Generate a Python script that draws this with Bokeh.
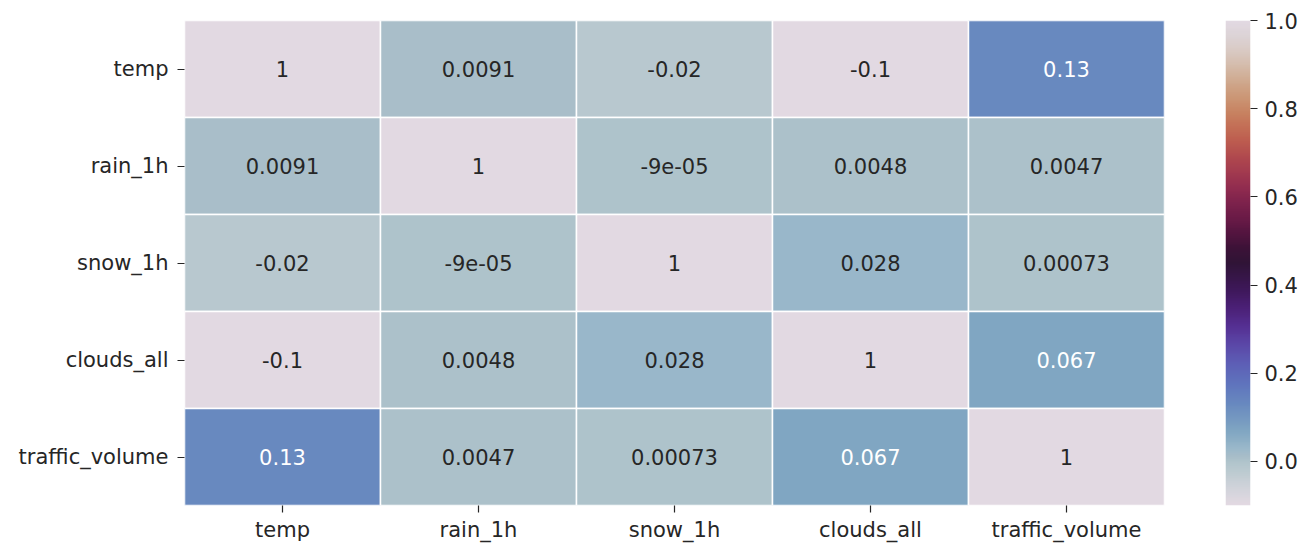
import numpy as np
from bokeh.plotting import figure
from bokeh.layouts import row
from bokeh.models import (ColumnDataSource, FactorRange, Range1d, LinearColorMapper,
                          FixedTicker, PrintfTickFormatter)
from bokeh.core.properties import value
from bokeh.embed import file_html
from bokeh.resources import INLINE

# Correlation matrix of the traffic / weather features
features = ["temp", "rain_1h", "snow_1h", "clouds_all", "traffic_volume"]
temp_row = [1.0, 0.0091, -0.02, -0.1, 0.13]
rain_row = [0.0091, 1.0, -9e-05, 0.0048, 0.0047]
snow_row = [-0.02, -9e-05, 1.0, 0.028, 0.00073]
clouds_row = [-0.1, 0.0048, 0.028, 1.0, 0.067]
traffic_row = [0.13, 0.0047, 0.00073, 0.067, 1.0]
rows = [temp_row, rain_row, snow_row, clouds_row, traffic_row]

cbar_ticks = [0.0, 0.2, 0.4, 0.6, 0.8, 1.0]

# Cyclic "twilight"-style colour map: anchor stops (position, colour)
stops = [(0.000, "#e2d9e2"), (0.035, "#d0d3da"), (0.073, "#b9c9cf"),
         (0.092, "#adc2cb"), (0.100, "#a8bdc8"), (0.116, "#9ab8ca"),
         (0.152, "#80a6c2"), (0.209, "#6888bf"), (0.250, "#5f74bd"),
         (0.290, "#5d5fb6"), (0.330, "#5b48a8"), (0.370, "#552f92"),
         (0.410, "#4a1f74"), (0.450, "#3c1756"), (0.500, "#2f1436"),
         (0.530, "#3c1237"), (0.560, "#52143f"), (0.590, "#681a46"),
         (0.625, "#7d224c"), (0.656, "#912c4f"), (0.688, "#a23a4f"),
         (0.720, "#b0494e"), (0.750, "#bc5b4f"), (0.780, "#c36d55"),
         (0.810, "#c78160"), (0.840, "#cb9473"), (0.875, "#cfa88d"),
         (0.906, "#d4baa9"), (0.940, "#d9cac4"), (0.970, "#dcd3d6"),
         (1.000, "#e2d9e2")]
stop_pos = np.array([s[0] for s in stops])
stop_rgb = np.array([[int(s[1][i:i + 2], 16) for i in (1, 3, 5)] for s in stops], float)
palette = []
for t in np.linspace(0, 1, 256):
    r, g, b = (np.interp(t, stop_pos, stop_rgb[:, k]) for k in range(3))
    palette.append("#%02x%02x%02x" % (int(round(r)), int(round(g)), int(round(b))))

vmin = min(min(r) for r in rows)
vmax = max(max(r) for r in rows)
mapper = LinearColorMapper(palette=palette, low=vmin, high=vmax)


def cell_color(v):
    idx = int(np.clip(round((v - vmin) / (vmax - vmin) * 255), 0, 255))
    return palette[idx]


def text_color(hexcol):
    rgb = np.array([int(hexcol[i:i + 2], 16) for i in (1, 3, 5)]) / 255.0
    lin = np.where(rgb <= 0.03928, rgb / 12.92, ((rgb + 0.055) / 1.055) ** 2.4)
    lum = 0.2126 * lin[0] + 0.7152 * lin[1] + 0.0722 * lin[2]
    return "#ffffff" if lum < 0.408 else "#262626"


xs, ys, labels, fills, tcolors = [], [], [], [], []
for rname, vals in zip(features, rows):
    for cname, v in zip(features, vals):
        xs.append(cname)
        ys.append(rname)
        labels.append(format(v, ".2g"))
        col = cell_color(v)
        fills.append(col)
        tcolors.append(text_color(col))

src = ColumnDataSource(dict(x=xs, y=ys, label=labels, fill=fills, tcol=tcolors))

FONT = "DejaVu Sans"
FSIZE = "21px"
INK = "#262626"

p = figure(width=1190, height=544, output_backend="svg", toolbar_location=None,
           x_range=FactorRange(*features), y_range=FactorRange(*features[::-1]),
           min_border_left=184, min_border_right=26, min_border_top=20, min_border_bottom=36)

p.rect(x="x", y="y", width=1, height=1, source=src, fill_color="fill",
       line_color="white", line_width=1.5)
p.text(x="x", y="y", text="label", source=src, text_color="tcol",
       text_align="center", text_baseline="middle",
       text_font=value(FONT), text_font_size=FSIZE)

for ax in (p.xaxis[0], p.yaxis[0]):
    ax.axis_line_color = None
    ax.major_tick_in = 0
    ax.major_tick_out = 7
    ax.major_tick_line_color = INK
    ax.major_tick_line_width = 1.2
    ax.major_label_text_font = FONT
    ax.major_label_text_font_size = FSIZE
    ax.major_label_text_color = INK
    ax.major_label_standoff = 5
p.yaxis[0].major_label_standoff = 9

p.xgrid.grid_line_color = None
p.ygrid.grid_line_color = None
p.outline_line_color = None

# Colour bar as its own narrow panel with a right-hand value axis
cb = figure(width=112, height=544, output_backend="svg", toolbar_location=None,
            x_range=Range1d(0, 1), y_range=Range1d(vmin, vmax),
            x_axis_location=None, y_axis_location="right",
            min_border_left=35, min_border_right=52, min_border_top=20, min_border_bottom=36)
gradient = np.linspace(vmin, vmax, 512).reshape(512, 1)
cb.image(image=[gradient], x=0, y=vmin, dw=1, dh=vmax - vmin, color_mapper=mapper)
cax = cb.yaxis[0]
cax.ticker = FixedTicker(ticks=cbar_ticks)
cax.formatter = PrintfTickFormatter(format="%.1f")
cax.axis_line_color = None
cax.major_tick_in = 0
cax.major_tick_out = 7
cax.minor_tick_line_color = None
cax.major_tick_line_color = INK
cax.major_tick_line_width = 1.2
cax.major_label_text_font = FONT
cax.major_label_text_font_size = FSIZE
cax.major_label_text_color = INK
cax.major_label_standoff = 7
cb.xgrid.grid_line_color = None
cb.ygrid.grid_line_color = None
cb.outline_line_color = None

layout = row(p, cb, spacing=0)
open("out.html", "w").write(file_html(layout, INLINE))
